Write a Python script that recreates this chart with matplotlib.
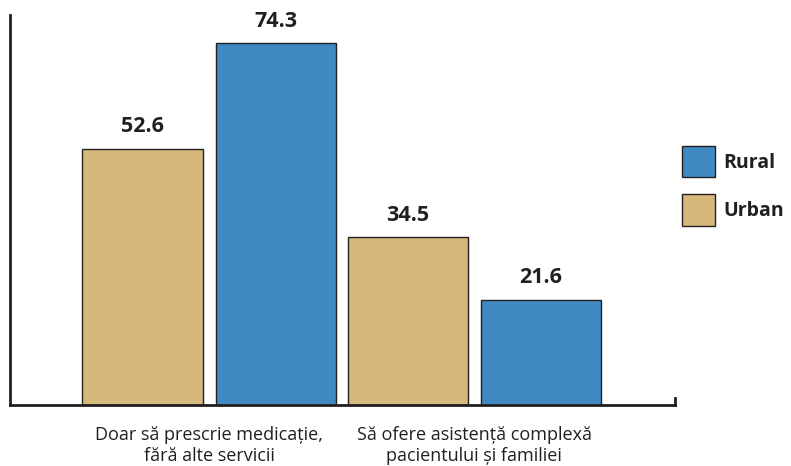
import numpy as np
import matplotlib.pyplot as plt

plt.rcParams['font.family'] = ['Open Sans', 'DejaVu Sans']

# date
categorii = ['Doar să prescrie medicație,\nfără alte servicii',
             'Să ofere asistență complexă\npacientului și familiei']
urban = [52.6, 34.5]
rural = [74.3, 21.6]

c_urban = '#D6B87A'
c_rural = '#3F8AC2'
c_ax = '#231F20'

fig = plt.figure(figsize=(7.91, 4.66), dpi=100)
ax = fig.add_axes([10 / 791, 61 / 466, 665 / 791, 390 / 466])

x = np.arange(len(categorii))
w = 0.453
off = 0.251

b1 = ax.bar(x - off, urban, w, color=c_urban, edgecolor=c_ax, linewidth=1, label='Urban')
b2 = ax.bar(x + off, rural, w, color=c_rural, edgecolor=c_ax, linewidth=1, label='Rural')

for bars in (b1, b2):
    for b in bars:
        ax.text(b.get_x() + b.get_width() / 2, b.get_height() + 2.3, f'{b.get_height():.1f}',
                ha='center', va='bottom', fontsize=15.5, fontweight='bold', color=c_ax)

ax.set_xlim(-0.751, 1.758)
ax.set_ylim(0, 80)
ax.set_xticks(x)
ax.set_xticklabels(categorii, fontsize=13, color=c_ax, linespacing=1.25)
ax.tick_params(axis='x', length=0, pad=15)
ax.set_yticks([])

for s in ['top', 'right']:
    ax.spines[s].set_visible(False)
for s in ['left', 'bottom']:
    ax.spines[s].set_linewidth(2)
    ax.spines[s].set_color(c_ax)

# mic semn la capatul axei x
ax.plot([1, 1], [0, 0.018], transform=ax.transAxes, color=c_ax, lw=2, clip_on=False)

h, l = ax.get_legend_handles_labels()
leg = fig.legend(h[::-1], l[::-1], loc='upper left', bbox_to_anchor=(664 / 791, 1 - 128 / 466),
                 frameon=False, prop={'size': 14, 'weight': 'bold'},
                 handlelength=1.7, handleheight=2.15, labelspacing=0.85, handletextpad=0.45)
for t in leg.get_texts():
    t.set_color(c_ax)

fig.savefig('out.png', dpi=100)
